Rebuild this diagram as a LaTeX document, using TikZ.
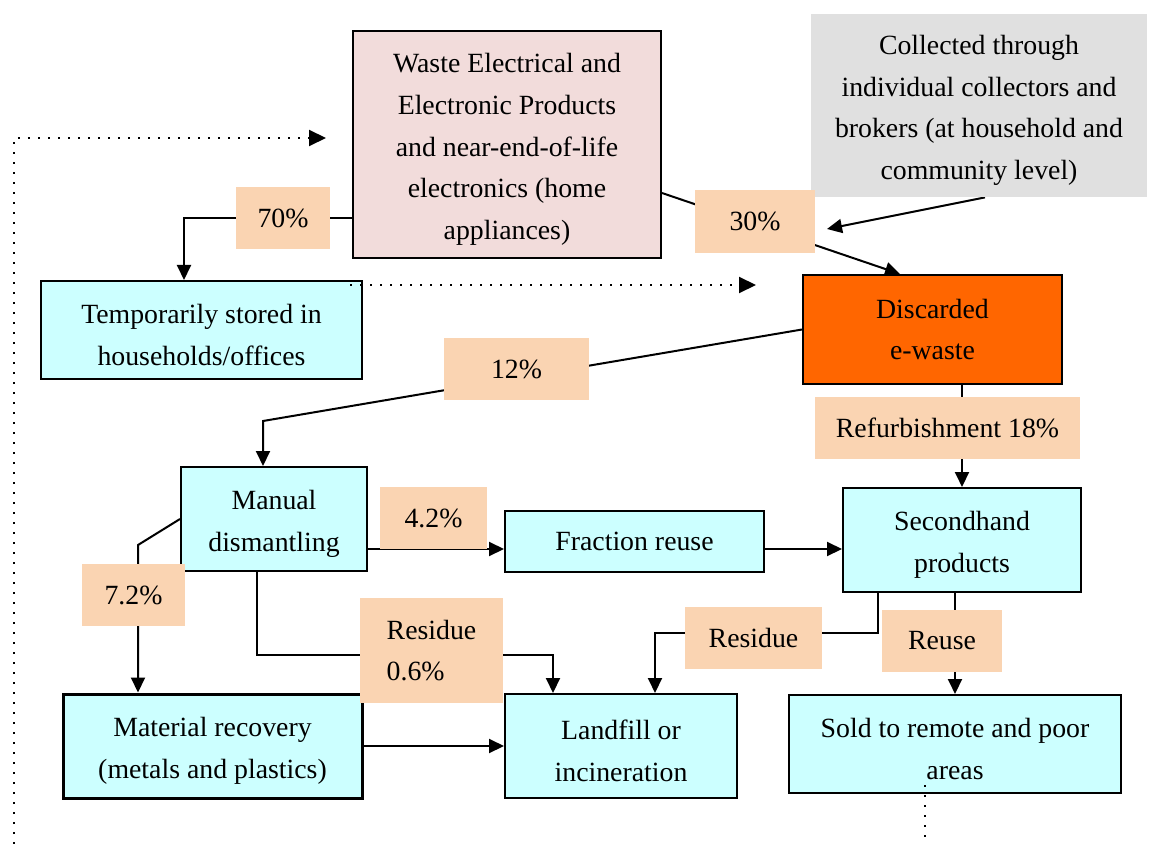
\documentclass[tikz,border=0pt]{standalone}
\usepackage{fontspec}
\setmainfont{Liberation Serif}
\usetikzlibrary{arrows.meta,backgrounds}
\definecolor{weeepink}{HTML}{F2DCDB}
\definecolor{collgray}{HTML}{E0E0E0}
\definecolor{pctpeach}{HTML}{FAD4B2}
\definecolor{boxcyan}{HTML}{CCFFFF}
\definecolor{discorange}{HTML}{FF6600}
\newdimen\pxu \pxu=0.5pt
\newcommand\lowstrut{\rule{0pt}{14.5pt}}
\begin{document}
\begin{tikzpicture}[x=0.5pt,y=-0.5pt,
    every node/.style={font=\fontsize{13.9}{20.8}\selectfont,inner sep=0pt},
    box/.style={draw,line width=1pt,fill=boxcyan,align=center},
    pct/.style={fill=pctpeach,align=center},
    flow/.style={line width=1pt,-{Triangle[width=7pt,length=7.5pt]}},
    dots/.style={line width=1pt,dash pattern=on 1pt off 4pt,-{Triangle[width=8pt,length=8.5pt]}}]
        \useasboundingbox (0,0) rectangle (1149,844);

        \node[box,fill=weeepink,minimum width=308\pxu,minimum height=227\pxu] (weee) at (507,144.5)
            {\lowstrut Waste Electrical and\\Electronic Products\\and near-end-of-life\\electronics (home\\appliances)};
        \node[fill=collgray,align=center,minimum width=336\pxu,minimum height=183\pxu] (coll) at (979,105.5)
            {\lowstrut Collected through\\individual collectors and\\brokers (at household and\\community level)};
        \node[box,minimum width=321\pxu,minimum height=98\pxu] (temp) at (201.5,330) {\lowstrut Temporarily stored in\\households/offices};
        \node[box,fill=discorange,minimum width=259\pxu,minimum height=109\pxu] (disc) at (932.5,329.5) {Discarded\\e-waste};
        \node[box,minimum width=186\pxu,minimum height=104\pxu] (man) at (274,519) {\lowstrut Manual\\dismantling};
        \node[box,minimum width=259\pxu,minimum height=61\pxu] (frac) at (634.5,541.5) {Fraction reuse};
        \node[box,minimum width=238\pxu,minimum height=104\pxu] (hand) at (962,540) {\lowstrut Secondhand\\products};
        \node[box,line width=1.5pt,minimum width=299\pxu,minimum height=104\pxu] (mat) at (212.5,746) {\lowstrut Material recovery\\(metals and plastics)};
        \node[box,minimum width=232\pxu,minimum height=104\pxu] (land) at (621,746) {\lowstrut Landfill or\\incineration};
        \node[box,minimum width=332\pxu,minimum height=98\pxu] (sold) at (955,744) {\lowstrut Sold to remote and poor\\areas};

        \node[pct,minimum width=94\pxu,minimum height=62\pxu] (p70) at (283,218) {70\%};
        \node[pct,minimum width=120\pxu,minimum height=63\pxu] (p30) at (755,221.5) {30\%};
        \node[pct,minimum width=145\pxu,minimum height=62\pxu] (p12) at (516.5,369) {12\%};
        \node[pct,minimum width=265\pxu,minimum height=62\pxu] (refurb) at (947.5,428) {Refurbishment 18\%};
        \node[pct,minimum width=107\pxu,minimum height=62\pxu] (p42) at (433.5,518) {4.2\%};
        \node[pct,minimum width=103\pxu,minimum height=62\pxu] (p72) at (133.5,595) {7.2\%};
        \node[pct,align=left,minimum width=143\pxu,minimum height=105\pxu] (res06) at (431.5,650.5) {Residue\\0.6\%};
        \node[pct,minimum width=137\pxu,minimum height=62\pxu] (res) at (753.5,638) {Residue};
        \node[pct,minimum width=120\pxu,minimum height=62\pxu] (reuse) at (942,641) {Reuse};

        \coordinate (k70) at (184,218);
        \coordinate (t30) at (827,229);
        \coordinate (k12) at (263,421);
        \coordinate (k72) at (138,545);
        \coordinate (k06) at (257,655);
        \coordinate (j06) at (553,655);
        \coordinate (kres) at (878,633);
        \coordinate (jres) at (655,633);
        \coordinate (d1) at (14,844);
        \coordinate (d2) at (14,138);
        \coordinate (d3) at (326,138);
        \coordinate (d4) at (350,285);
        \coordinate (d5) at (756,285);
        \coordinate (d6) at (925,785);
        \coordinate (d7) at (925,844);

        \begin{pgfonlayer}{background}
        \draw[flow] (weee.west |- k70) -- (k70) -- (k70 |- temp.north);
        \draw[flow] (weee.east |- 0,193) -- (disc.north -| 900,0);
        \draw[flow] (coll.south -| 985,0) -- (t30);
        \draw[flow] (disc.west) -- (k12) -- (k12 |- man.north);
        \draw[flow] (hand.north |- disc.south) -- (hand.north);
        \draw[flow] (man.east |- 0,549) -- (frac.west |- 0,549);
        \draw[flow] (frac.east |- 0,549) -- (hand.west |- 0,549);
        \draw[flow] (man.west) -- (k72) -- (k72 |- mat.north);
        \draw[flow] (man.south -| k06) -- (k06) -- (j06) -- (j06 |- land.north);
        \draw[flow] (hand.south -| kres) -- (kres) -- (jres) -- (jres |- land.north);
        \draw[flow] (sold.north |- hand.south) -- (sold.north);
        \draw[flow] (mat.east) -- (land.west);
        \end{pgfonlayer}

        \draw[dots] (d1) -- (d2) -- (d3);
        \draw[dots] (d4) -- (d5);
        \draw[dots,-] (d6) -- (d7);
\end{tikzpicture}
\end{document}
